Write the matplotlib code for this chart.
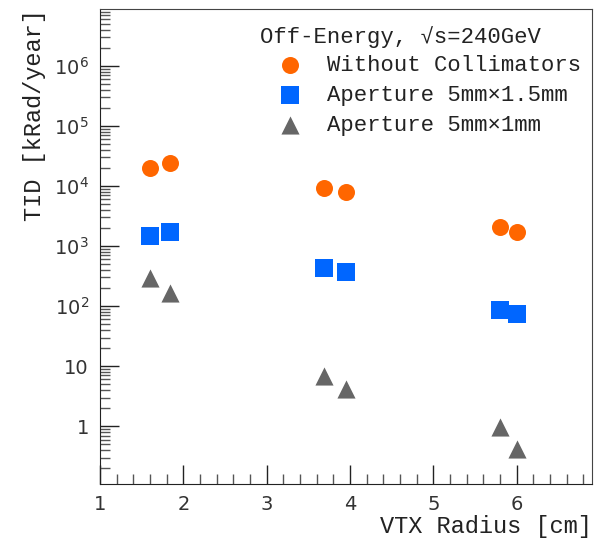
import numpy as np
import matplotlib
matplotlib.use("Agg")
import matplotlib.pyplot as plt
from matplotlib.ticker import FixedLocator, MultipleLocator, LogLocator, NullFormatter

# TID at the vertex detector layers, off-energy beam, sqrt(s)=240 GeV
radius_none = [1.60, 1.84, 3.69, 3.95, 5.80, 6.00]
tid_none = [19800, 24500, 9200, 7900, 2110, 1720]

radius_15 = [1.60, 1.84, 3.69, 3.95, 5.80, 6.00]
tid_15 = [1480, 1740, 438, 376, 86, 74]

radius_10 = [1.60, 1.84, 3.69, 3.95, 5.80, 6.00]
tid_10 = [295, 168, 6.9, 4.1, 0.98, 0.42]

labels = ["Without Collimators", "Aperture 5mm\u00d71.5mm", "Aperture 5mm\u00d71mm"]
ytick_vals = [1, 10, 1e2, 1e3, 1e4, 1e5, 1e6]
ytick_text = ["1", "10", "$10^{2}$", "$10^{3}$", "$10^{4}$", "$10^{5}$", "$10^{6}$"]

mono = ["Liberation Mono", "DejaVu Sans Mono", "DejaVu Sans"]
plt.rcParams["mathtext.fontset"] = "dejavusans"

fig = plt.figure(figsize=(6.15, 5.41), dpi=100)
ax = fig.add_axes([100 / 615, 1 - 484 / 541, 491.7 / 615, 475 / 541])

ax.scatter(radius_none, tid_none, marker="o", s=150, color="#ff6600", lw=0, label=labels[0], zorder=3)
ax.scatter(radius_15, tid_15, marker="s", s=150, color="#0066ff", lw=0, label=labels[1], zorder=3)
ax.scatter(radius_10, tid_10, marker="^", s=170, color="#666666", lw=0, label=labels[2], zorder=3)

ax.set_yscale("log")
ax.set_xlim(1, 6.9)
ax.set_ylim(0.109, 8.9e6)

ax.xaxis.set_major_locator(MultipleLocator(1))
ax.xaxis.set_minor_locator(MultipleLocator(0.2))
ax.yaxis.set_major_locator(FixedLocator(ytick_vals))
ax.yaxis.set_minor_locator(LogLocator(base=10, subs=np.arange(2, 10)))
ax.yaxis.set_minor_formatter(NullFormatter())
ax.set_yticklabels(ytick_text)

ax.tick_params(which="both", direction="in", top=False, right=False, colors="#222222",
               labelsize=14, labelcolor="#333333")
ax.tick_params(which="major", length=14, width=1.0, pad=8)
ax.tick_params(which="minor", length=7.5, width=1.0, color="#555555")
for lab in ax.get_xticklabels() + ax.get_yticklabels():
    lab.set_family("DejaVu Sans")

for side in ["left", "bottom"]:
    ax.spines[side].set_color("#222222")
for side in ["top", "right"]:
    ax.spines[side].set_color("#444444")

ax.set_xlabel("VTX Radius [cm]", family=mono, fontsize=17, color="#222222", loc="right", labelpad=1)
ax.set_ylabel("TID [kRad/year]", family=mono, fontsize=17, color="#222222", loc="top", labelpad=6)

fig.text(260 / 615, 1 - 37 / 541, "Off-Energy, \u221as=240GeV", family=mono, fontsize=16,
         color="#222222", ha="left", va="center")
leg = ax.legend(loc="upper left", bbox_to_anchor=(279 / 615, 1 - 55 / 541),
                bbox_transform=fig.transFigure, frameon=False, borderpad=0,
                handlelength=1.0, handletextpad=1.15, labelspacing=0.4,
                prop={"family": mono, "size": 16}, borderaxespad=0)
for t in leg.get_texts():
    t.set_color("#222222")

fig.savefig("out.png", dpi=100)
